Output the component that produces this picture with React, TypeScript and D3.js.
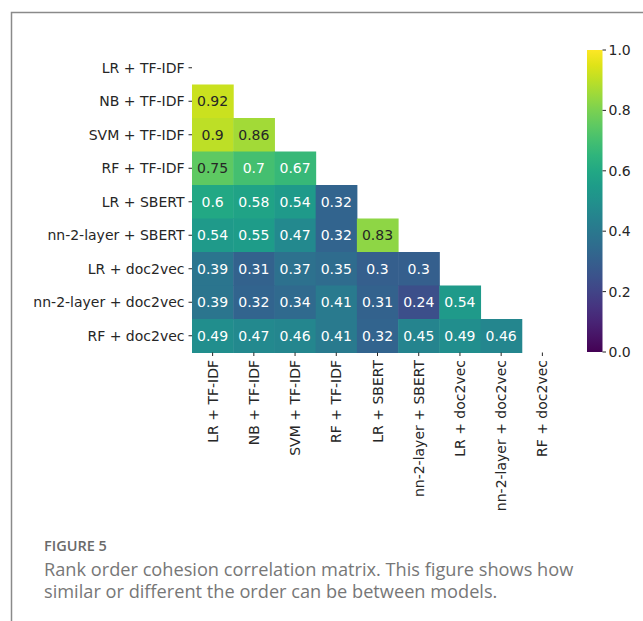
import React from "react";
import * as d3 from "d3";

const labels = [
  "LR + TF-IDF",
  "NB + TF-IDF",
  "SVM + TF-IDF",
  "RF + TF-IDF",
  "LR + SBERT",
  "nn-2-layer + SBERT",
  "LR + doc2vec",
  "nn-2-layer + doc2vec",
  "RF + doc2vec",
];

// lower-triangle rows (row i has i values)
const row1 = [0.92];
const row2 = [0.9, 0.86];
const row3 = [0.75, 0.7, 0.67];
const row4 = [0.6, 0.58, 0.54, 0.32];
const row5 = [0.54, 0.55, 0.47, 0.32, 0.83];
const row6 = [0.39, 0.31, 0.37, 0.35, 0.3, 0.3];
const row7 = [0.39, 0.32, 0.34, 0.41, 0.31, 0.24, 0.54];
const row8 = [0.49, 0.47, 0.46, 0.41, 0.32, 0.45, 0.49, 0.46];
const rows: number[][] = [[], row1, row2, row3, row4, row5, row6, row7, row8];

const cbTicks = [0, 0.2, 0.4, 0.6, 0.8, 1.0];

const FONT = "DejaVu Sans";
const FS = 14;

function lum(c: string) {
  const rgb = d3.rgb(c);
  const f = (v: number) => {
    v = v / 255;
    return v <= 0.03928 ? v / 12.92 : Math.pow((v + 0.055) / 1.055, 2.4);
  };
  return 0.2126 * f(rgb.r) + 0.7152 * f(rgb.g) + 0.0722 * f(rgb.b);
}

export default function App() {
  const x = d3.scaleBand<string>().domain(labels).range([192, 563]);
  const y = d3.scaleBand<string>().domain(labels).range([51, 352.5]);
  const color = (v: number) => d3.interpolateViridis(v);
  const cb = d3.scaleLinear().domain([0, 1]).range([352, 50]);
  const cbX = 587;
  const cbW = 15.5;

  const cells: { r: number; c: number; v: number }[] = [];
  rows.forEach((row, r) => row.forEach((v, c) => cells.push({ r, c, v })));

  const stops = d3.range(0, 1.0001, 0.05);

  return (
    <svg
      width={643}
      height={621}
      style={{ position: "absolute", left: 0, top: 0, background: "#fff" }}
    >
      <defs>
        <linearGradient id="vir" x1="0" y1="1" x2="0" y2="0">
          {stops.map((s) => (
            <stop key={s} offset={s} stopColor={color(s)} />
          ))}
        </linearGradient>
      </defs>
      {/* frame */}
      <path d="M11.5,621 L11.5,12.5 L643,12.5" fill="none" stroke="#8a8a8a" strokeWidth={1.5} />

      {/* cells */}
      {cells.map((d) => {
        const col = color(d.v);
        const tc = lum(col) > 0.408 ? "#262626" : "#ffffff";
        const cx = x(labels[d.c])!;
        const cy = y(labels[d.r])!;
        return (
          <g key={`${d.r}-${d.c}`}>
            <rect x={cx} y={cy} width={x.bandwidth() + 0.5} height={y.bandwidth() + 0.5} fill={col} />
            <text
              x={cx + x.bandwidth() / 2}
              y={cy + y.bandwidth() / 2}
              textAnchor="middle"
              dominantBaseline="central"
              fontFamily={FONT}
              fontSize={FS}
              fill={tc}
            >
              {String(d.v)}
            </text>
          </g>
        );
      })}

      {/* y axis */}
      {labels.map((l) => {
        const yy = y(l)! + y.bandwidth() / 2;
        return (
          <g key={"y" + l}>
            <line x1={188.5} x2={192} y1={yy} y2={yy} stroke="#262626" strokeWidth={1} />
            <text
              x={184.5}
              y={yy}
              textAnchor="end"
              dominantBaseline="central"
              fontFamily={FONT}
              fontSize={FS}
              fill="#262626"
            >
              {l}
            </text>
          </g>
        );
      })}

      {/* x axis */}
      {labels.map((l) => {
        const xx = x(l)! + x.bandwidth() / 2;
        return (
          <g key={"x" + l}>
            <line x1={xx} x2={xx} y1={352.5} y2={356} stroke="#262626" strokeWidth={1} />
            <text
              transform={`translate(${xx},${360}) rotate(-90)`}
              textAnchor="end"
              dominantBaseline="central"
              fontFamily={FONT}
              fontSize={FS}
              fill="#262626"
            >
              {l}
            </text>
          </g>
        );
      })}

      {/* colorbar */}
      <rect x={cbX} y={cb(1)} width={cbW} height={cb(0) - cb(1)} fill="url(#vir)" />
      {cbTicks.map((t) => (
        <g key={"cb" + t}>
          <line x1={cbX + cbW} x2={cbX + cbW + 3.5} y1={cb(t)} y2={cb(t)} stroke="#262626" strokeWidth={1} />
          <text
            x={cbX + cbW + 6}
            y={cb(t)}
            dominantBaseline="central"
            fontFamily={FONT}
            fontSize={FS}
            fill="#262626"
          >
            {t.toFixed(1)}
          </text>
        </g>
      ))}

      {/* caption */}
      <text x={44} y={551} fontFamily="Open Sans" fontWeight={600} fontSize={14.5} fill="#6a6a6a">
        FIGURE 5
      </text>
      <text x={44} y={575.5} fontFamily="Open Sans" fontSize={18.2} fill="#777777">
        Rank order cohesion correlation matrix. This figure shows how
      </text>
      <text x={44} y={598} fontFamily="Open Sans" fontSize={18.2} fill="#777777">
        similar or different the order can be between models.
      </text>
    </svg>
  );
}
